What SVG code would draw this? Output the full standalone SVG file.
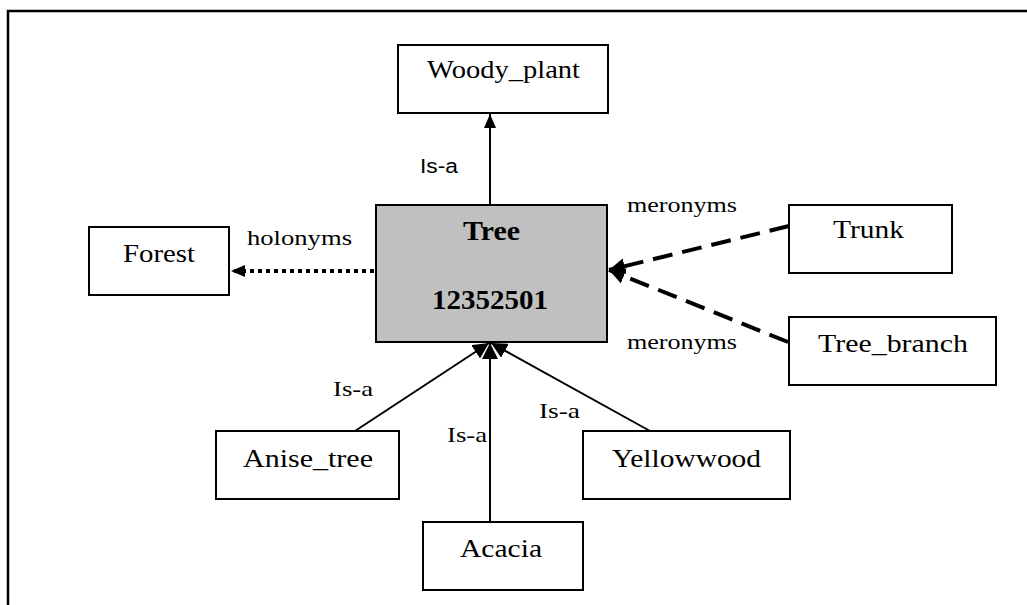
<svg xmlns="http://www.w3.org/2000/svg" width="1027" height="605" viewBox="0 0 1027 605">
<style>
.box{fill:#fff;stroke:#000;stroke-width:2}
.center{fill:#c0c0c0;stroke:#000;stroke-width:2}
.lbl{font-family:"Liberation Serif","Times New Roman",serif;font-size:26px;fill:#000}
.elbl{font-family:"Liberation Serif","Times New Roman",serif;font-size:22px;fill:#000}
.slbl{font-family:"Liberation Sans",Arial,sans-serif;font-size:20px;fill:#000}
.bold{font-weight:bold;font-size:28px}
.line{stroke:#000;stroke-width:2;fill:none}
.dot{stroke:#000;stroke-width:4;stroke-dasharray:4 4;fill:none}
.dash{stroke:#000;stroke-width:4;stroke-dasharray:20 10;fill:none}
</style>
<defs>
<marker id="arr" markerUnits="userSpaceOnUse" markerWidth="14" markerHeight="12" refX="14" refY="6" orient="auto">
<path d="M0,0 L14,6 L0,12 z" fill="#000"/>
</marker>
<marker id="arrL" markerUnits="userSpaceOnUse" markerWidth="16" markerHeight="16" refX="16" refY="8" orient="auto">
<path d="M0,0 L16,8 L0,16 z" fill="#000"/>
</marker>
</defs>
<rect width="1027" height="605" fill="#fff"/>
<path d="M8,605 V11 H1027" fill="none" stroke="#000" stroke-width="2.5"/>
<g id="connectors">
<line class="line" x1="490" y1="205" x2="490" y2="114" marker-end="url(#arr)"/>
<line class="dot" x1="374" y1="271" x2="231" y2="271" marker-end="url(#arr)"/>
<line class="dash" x1="789" y1="226" x2="609" y2="270" marker-end="url(#arrL)"/>
<line class="dash" x1="788" y1="342" x2="609" y2="270" marker-end="url(#arrL)"/>
<line class="line" x1="355" y1="431" x2="489" y2="343" marker-end="url(#arrL)"/>
<line class="line" x1="490" y1="522" x2="490" y2="343" marker-end="url(#arrL)"/>
<line class="line" x1="650" y1="431" x2="491" y2="343" marker-end="url(#arrL)"/>
<text class="slbl" x="420" y="173" textLength="38" lengthAdjust="spacingAndGlyphs">Is-a</text>
<text class="elbl" x="247" y="245" textLength="105" lengthAdjust="spacingAndGlyphs">holonyms</text>
<text class="elbl" x="627" y="212" textLength="110" lengthAdjust="spacingAndGlyphs">meronyms</text>
<text class="elbl" x="627" y="349" textLength="110" lengthAdjust="spacingAndGlyphs">meronyms</text>
<text class="elbl" x="333" y="396" textLength="40" lengthAdjust="spacingAndGlyphs">Is-a</text>
<text class="elbl" x="447" y="442" textLength="40" lengthAdjust="spacingAndGlyphs">Is-a</text>
<text class="elbl" x="539" y="418" textLength="41" lengthAdjust="spacingAndGlyphs">Is-a</text>
</g>
<g id="woody_plant">
<rect class="box" x="398" y="45" width="210" height="68"/>
<text class="lbl" x="427" y="78" textLength="153" lengthAdjust="spacingAndGlyphs">Woody_plant</text>
</g>
<g id="tree">
<rect class="center" x="376" y="205" width="231" height="137"/>
<text class="lbl bold" x="463" y="240" textLength="57" lengthAdjust="spacingAndGlyphs">Tree</text>
<text class="lbl bold" x="432" y="309" textLength="116" lengthAdjust="spacingAndGlyphs">12352501</text>
</g>
<g id="forest">
<rect class="box" x="89" y="227" width="140" height="68"/>
<text class="lbl" x="123" y="262" textLength="72" lengthAdjust="spacingAndGlyphs">Forest</text>
</g>
<g id="trunk">
<rect class="box" x="789" y="205" width="163" height="68"/>
<text class="lbl" x="833" y="238" textLength="71" lengthAdjust="spacingAndGlyphs">Trunk</text>
</g>
<g id="tree_branch">
<rect class="box" x="789" y="317" width="207" height="68"/>
<text class="lbl" x="818" y="352" textLength="150" lengthAdjust="spacingAndGlyphs">Tree_branch</text>
</g>
<g id="anise_tree">
<rect class="box" x="216" y="431" width="183" height="68"/>
<text class="lbl" x="243" y="467" textLength="130" lengthAdjust="spacingAndGlyphs">Anise_tree</text>
</g>
<g id="yellowwood">
<rect class="box" x="583" y="431" width="207" height="68"/>
<text class="lbl" x="612" y="467" textLength="149" lengthAdjust="spacingAndGlyphs">Yellowwood</text>
</g>
<g id="acacia">
<rect class="box" x="423" y="522" width="160" height="68"/>
<text class="lbl" x="460" y="557" textLength="82" lengthAdjust="spacingAndGlyphs">Acacia</text>
</g>
</svg>
